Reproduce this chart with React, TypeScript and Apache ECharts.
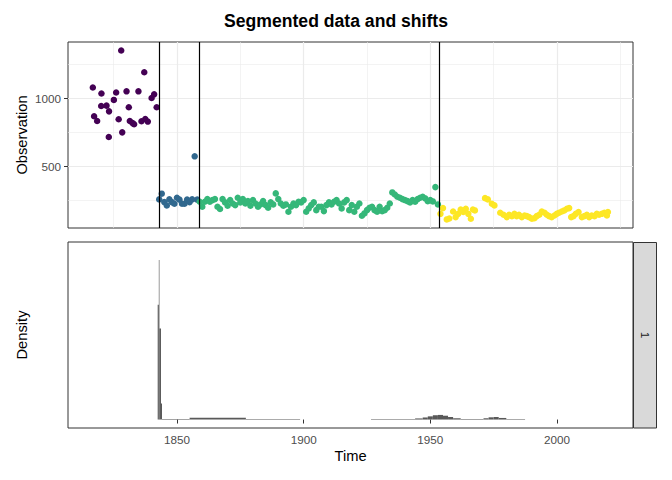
import React, { useEffect, useRef } from "react";
import * as echarts from "echarts";

// ---- data ----
const purpleYears = [1816.8, 1817.3, 1818.5, 1820.2, 1820.1, 1822.2, 1823.2, 1823.1, 1825.1, 1826, 1827, 1828, 1828.4, 1830.1, 1831, 1831.4, 1833.1, 1832.5, 1834.8, 1836, 1837.1, 1837.5, 1838.5, 1840, 1841, 1842];
const purpleValues = [1079, 868, 833, 1035, 943, 946, 904, 716, 988, 1042, 846, 1351, 750, 1051, 934, 833, 809, 818, 1051, 831, 1191, 848, 829, 1002, 1029, 934];

const blueStartYear = 1843;
const blueValues = [258, 300, 238, 213, 258, 238, 226, 270, 256, 226, 226, 256, 238, 258, 574, 256];

const greenStartYear = 1859;
const greenValues = [
  241, 204, 241, 260, 241, 253, 260, 204, 187, 260, 236, 211, 253, 228, 216, 270, 236, 260, 228, 245,
  211, 253, 228, 204, 221, 245, 216, 197, 236, 221, 302, 260, 228, 211, 221, 167, 204, 228, 216, 241,
  236, 253, 167, 192, 216, 236, 179, 204,
  204, 172, 216, 236, 221, 241, 253, 228, 192, 236, 253, 179, 216, 167, 204, 228, 138, 155, 179, 197,
  204, 179, 167, 204, 172, 179, 197, 228,
  309, 294, 277, 270, 260, 253, 245, 236, 253, 241, 260, 270, 277, 265, 245, 253, 243, 348, 221,
];

const yellowYears = [1954, 1955, 1956.5, 1957.5, 1959, 1960, 1961, 1962, 1963, 1964, 1965, 1966, 1966.8, 1967.6, 1971.6, 1972.7, 1974.3, 1975.3, 1977.6, 1978.9, 1980.2, 1981.1, 1982.2, 1983.2, 1984.1, 1985, 1986.1, 1987.2, 1988.1, 1989, 1990.1, 1991.1, 1992, 1993, 1994, 1995.1, 1996, 1996.9, 1997.9, 1999, 1999.9, 2000.8, 2001.9, 2002.9, 2003.9, 2004.8, 2005.6, 2006.5, 2007.4, 2008.5, 2009.8, 2010.8, 2011.8, 2012.7, 2013.7, 2014.8, 2015.7, 2016.6, 2017.7, 2018.7, 2019.7, 2020.1];
const yellowValues = [152, 194, 111, 118, 169, 128, 152, 184, 165, 189, 152, 116, 184, 177, 267, 258, 226, 214, 160, 145, 128, 145, 135, 152, 135, 145, 128, 140, 135, 128, 116, 120, 135, 145, 169, 160, 145, 135, 128, 140, 152, 160, 169, 177, 189, 194, 128, 135, 152, 165, 128, 135, 145, 128, 140, 135, 152, 145, 152, 160, 140, 165];

const changepoints = [1843.0, 1858.8, 1953.4];

const histStart = [1842.4, 1842.85, 1843.05, 1843.7, 1844.1, 1855.0, 1877.2, 1926.6, 1944, 1947, 1949, 1951, 1953, 1955, 1957, 1959, 1962, 1971, 1973, 1975, 1977, 1980];
const histEnd = [1842.85, 1843.05, 1843.7, 1844.1, 1855.0, 1877.2, 1898.6, 1944, 1947, 1949, 1951, 1953, 1955, 1957, 1959, 1962, 1971, 1973, 1975, 1977, 1980, 1987.4];
const histDensity = [72, 100, 57, 10, 0.35, 1.2, 0.35, 0.35, 0.7, 1.3, 2.0, 2.7, 2.9, 2.4, 1.6, 0.8, 0.35, 0.8, 1.4, 1.6, 1.0, 0.35];

const xMajor = [1850, 1900, 1950, 2000];
const xMinor = [1825, 1875, 1925, 1975, 2025];
const yMajor = [500, 1000];
const yMinor = [250, 750, 1250];

const segmentColors = ["#440154", "#31688E", "#35B779", "#FDE725"];

const FONT = "'Liberation Sans', Arial, Helvetica, sans-serif";

export default function App() {
  const ref = useRef<HTMLDivElement>(null);

  useEffect(() => {
    const chart = echarts.init(ref.current as HTMLDivElement, null, { renderer: "svg" });

    const pairs = (xs: number[], ys: number[]) => xs.map((x, i) => [x, ys[i]]);
    const seq = (start: number, ys: number[]) => ys.map((y, i) => [start + i, y]);

    const minorStyle = { color: "#EBEBEB", width: 0.6, type: "solid" as const };
    const majorStyle = { color: "#EBEBEB", width: 1.2, type: "solid" as const };

    const gridLines = {
      silent: true,
      z: 1,
      symbol: ["none", "none"],
      label: { show: false },
      emphasis: { disabled: true },
      data: [
        ...xMinor.map((v) => ({ xAxis: v, lineStyle: minorStyle })),
        ...yMinor.map((v) => ({ yAxis: v, lineStyle: minorStyle })),
        ...xMajor.map((v) => ({ xAxis: v, lineStyle: majorStyle })),
        ...yMajor.map((v) => ({ yAxis: v, lineStyle: majorStyle })),
      ],
    };

    const scatter = (data: number[][], color: string) => ({
      type: "scatter",
      xAxisIndex: 0,
      yAxisIndex: 0,
      data,
      symbol: "circle",
      symbolSize: 6.5,
      itemStyle: { color, opacity: 1 },
      z: 10,
      silent: true,
    });

    const axisLabelBase = { color: "#4D4D4D", fontSize: 11.7, fontFamily: FONT, formatter: (v: number) => String(v) };

    chart.setOption({
      animation: false,
      backgroundColor: "#FFFFFF",
      grid: [
        { left: 68, top: 42, width: 565, height: 186, show: true, borderColor: "#333333", borderWidth: 1, backgroundColor: "transparent" },
        { left: 68, top: 242, width: 565, height: 186, show: true, borderColor: "#333333", borderWidth: 1, backgroundColor: "transparent" },
      ],
      xAxis: [
        {
          gridIndex: 0, type: "value", min: 1807, max: 2030,
          axisLine: { show: false }, axisTick: { show: false }, axisLabel: { show: false }, splitLine: { show: false },
        },
        {
          gridIndex: 1, type: "value", min: 1807, max: 2030,
          axisLine: { show: false },
          axisTick: { show: true, customValues: xMajor, length: 4, lineStyle: { color: "#333333", width: 1 } },
          axisLabel: { ...axisLabelBase, customValues: xMajor, margin: 5 },
          splitLine: { show: false },
        },
      ],
      yAxis: [
        {
          gridIndex: 0, type: "value", min: 48, max: 1413,
          axisLine: { show: false },
          axisTick: { show: true, customValues: yMajor, length: 4, lineStyle: { color: "#333333", width: 1 } },
          axisLabel: { ...axisLabelBase, customValues: yMajor, margin: 7 },
          splitLine: { show: false },
        },
        {
          gridIndex: 1, type: "value", min: -5.3, max: 111.3,
          axisLine: { show: false }, axisTick: { show: false }, axisLabel: { show: false }, splitLine: { show: false },
        },
      ],
      series: [
        { type: "line", xAxisIndex: 0, yAxisIndex: 0, data: [], z: 1, silent: true, markLine: gridLines },
        scatter(pairs(purpleYears, purpleValues), segmentColors[0]),
        scatter(seq(blueStartYear, blueValues), segmentColors[1]),
        scatter(seq(greenStartYear, greenValues), segmentColors[2]),
        scatter(pairs(yellowYears, yellowValues), segmentColors[3]),
        {
          type: "line", xAxisIndex: 0, yAxisIndex: 0, data: [], z: 12, silent: true,
          markLine: {
            silent: true, z: 12, symbol: ["none", "none"], label: { show: false },
            lineStyle: { color: "#000000", width: 1.2, type: "solid" },
            data: changepoints.map((v) => ({ xAxis: v })),
          },
        },
        {
          type: "custom",
          xAxisIndex: 1,
          yAxisIndex: 1,
          silent: true,
          data: histStart.map((s, i) => [s, histEnd[i], histDensity[i]]),
          encode: { x: [0, 1], y: 2 },
          renderItem: (_params: any, api: any) => {
            const p0 = api.coord([api.value(0), 0]);
            const p1 = api.coord([api.value(1), api.value(2)]);
            const w = Math.max(p1[0] - p0[0], 0.6);
            const h = Math.max(p0[1] - p1[1], 0.5);
            return {
              type: "rect",
              shape: { x: p0[0], y: p0[1] - h, width: w, height: h },
              style: { fill: "#595959" },
            };
          },
        },
      ],
      graphic: [
        {
          type: "text", x: 336, y: 21,
          style: { text: "Segmented data and shifts", font: `bold 17.6px ${FONT}`, fill: "#000000", align: "center", verticalAlign: "middle" },
        },
        {
          type: "text", x: 22, y: 135, rotation: Math.PI / 2,
          style: { text: "Observation", font: `14.7px ${FONT}`, fill: "#000000", align: "center", verticalAlign: "middle" },
        },
        {
          type: "text", x: 22, y: 335, rotation: Math.PI / 2,
          style: { text: "Density", font: `14.7px ${FONT}`, fill: "#000000", align: "center", verticalAlign: "middle" },
        },
        {
          type: "text", x: 350.5, y: 456,
          style: { text: "Time", font: `14.7px ${FONT}`, fill: "#000000", align: "center", verticalAlign: "middle" },
        },
        {
          type: "rect", x: 633.5, y: 242.5,
          shape: { x: 0, y: 0, width: 23, height: 185.5 },
          style: { fill: "#D9D9D9", stroke: "#333333", lineWidth: 1 },
        },
        {
          type: "text", x: 645, y: 335, rotation: -Math.PI / 2,
          style: { text: "1", font: `11.7px ${FONT}`, fill: "#1A1A1A", align: "center", verticalAlign: "middle" },
        },
      ],
    });

    return () => chart.dispose();
  }, []);

  return <div ref={ref} style={{ position: "fixed", left: 0, top: 0, width: 672, height: 480 }} />;
}
